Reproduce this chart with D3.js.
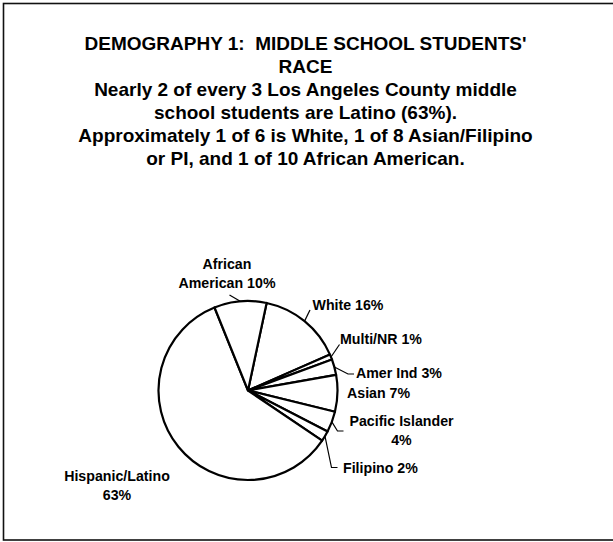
<!DOCTYPE html>
<html>
<head>
<meta charset="utf-8">
<script src="https://cdn.jsdelivr.net/npm/d3@7/dist/d3.min.js"></script>
<style>
  html, body { margin: 0; padding: 0; background: #fff; }
  svg { display: block; }
  text { font-family: "Liberation Sans", Arial, Helvetica, sans-serif; font-weight: bold; fill: #000; }
</style>
</head>
<body>
<script>
// Race / ethnicity shares of Los Angeles County middle school students (percent)
const categories = ["White", "Multi/NR", "Amer Ind", "Asian", "Pacific Islander", "Filipino", "Hispanic/Latino", "African American"];
const values = [16, 1, 3, 7, 4, 2, 63, 10];

const titleLines = [
  "DEMOGRAPHY 1:  MIDDLE SCHOOL STUDENTS'",
  "RACE",
  "Nearly 2 of every 3 Los Angeles County middle",
  "school students are Latino (63%).",
  "Approximately 1 of 6 is White, 1 of 8 Asian/Filipino",
  "or PI, and 1 of 10 African American."
];

// Label text lines for each slice
const labelLines = [
  ["White 16%"],
  ["Multi/NR 1%"],
  ["Amer Ind 3%"],
  ["Asian 7%"],
  ["Pacific Islander", "4%"],
  ["Filipino 2%"],
  ["Hispanic/Latino", "63%"],
  ["African", "American 10%"]
];

const W = 613, H = 542;
const cx = 248, cy = 390.5, R = 89.5;
const startDeg = 12;

// Label placement: anchor point, text-anchor, leader path after the arc point
const labelLayout = {
  "White":            { x: 312.5, y: 310, anchor: "start",  leader: [[310, 310]] },
  "Multi/NR":         { x: 340,   y: 344, anchor: "start",  leader: [[339.5, 344.5]] },
  "Amer Ind":         { x: 356,   y: 378, anchor: "start",  leader: [[348, 374], [354, 374]] },
  "Asian":            { x: 347,   y: 397.5, anchor: "start", leader: null },
  "Pacific Islander": { x: 401.5, y: 426, anchor: "middle", leader: [[337.5, 431], [343.5, 431]] },
  "Filipino":         { x: 343,   y: 473, anchor: "start",  leader: [[331.5, 467.5], [337.5, 467.5]] },
  "Hispanic/Latino":  { x: 117,   y: 480.5, anchor: "middle", leader: null },
  "African American": { x: 227,   y: 268.5, anchor: "middle", leader: [[229.5, 295]] }
};

const svg = d3.select("body").append("svg")
  .attr("width", W).attr("height", H);

svg.append("rect").attr("width", W).attr("height", H).attr("fill", "#fff");

// Frame
svg.append("rect")
  .attr("x", 3.5).attr("y", 3.5)
  .attr("width", W + 10).attr("height", 536.5)
  .attr("fill", "none").attr("stroke", "#111").attr("stroke-width", 1.6);

// Title block
const title = svg.append("text")
  .attr("text-anchor", "middle")
  .style("font-size", "19px")
  .style("white-space", "pre");
titleLines.forEach((t, i) => {
  title.append("tspan").attr("x", 305.5).attr("y", 49.5 + i * 23.1).text(t);
});

// Pie
const data = categories.map((c, i) => ({ category: c, value: values[i], lines: labelLines[i] }));
const a0 = startDeg * Math.PI / 180;
const pie = d3.pie().value(d => d.value).sort(null)
  .startAngle(a0).endAngle(a0 + 2 * Math.PI);
const arcs = pie(data);
const arc = d3.arc().innerRadius(0).outerRadius(R);

const g = svg.append("g").attr("transform", `translate(${cx},${cy})`);
g.selectAll("path.slice")
  .data(arcs)
  .join("path")
  .attr("class", "slice")
  .attr("d", arc)
  .attr("fill", "#fff")
  .attr("stroke", "#000")
  .attr("stroke-width", 2.2)
  .attr("stroke-linejoin", "round");

// Leader lines from slice edge (at mid angle) to the label
const line = d3.line();
arcs.forEach(a => {
  const lay = labelLayout[a.data.category];
  if (!lay.leader) return;
  const mid = (a.startAngle + a.endAngle) / 2;
  const p0 = [cx + R * Math.sin(mid), cy - R * Math.cos(mid)];
  svg.append("path")
    .attr("d", line([p0, ...lay.leader]))
    .attr("fill", "none")
    .attr("stroke", "#000")
    .attr("stroke-width", 1.2);
});

// Labels
arcs.forEach(a => {
  const lay = labelLayout[a.data.category];
  const t = svg.append("text")
    .attr("text-anchor", lay.anchor)
    .style("font-size", "14.2px");
  a.data.lines.forEach((s, i) => {
    t.append("tspan").attr("x", lay.x).attr("y", lay.y + i * 19).text(s);
  });
});
</script>
</body>
</html>
